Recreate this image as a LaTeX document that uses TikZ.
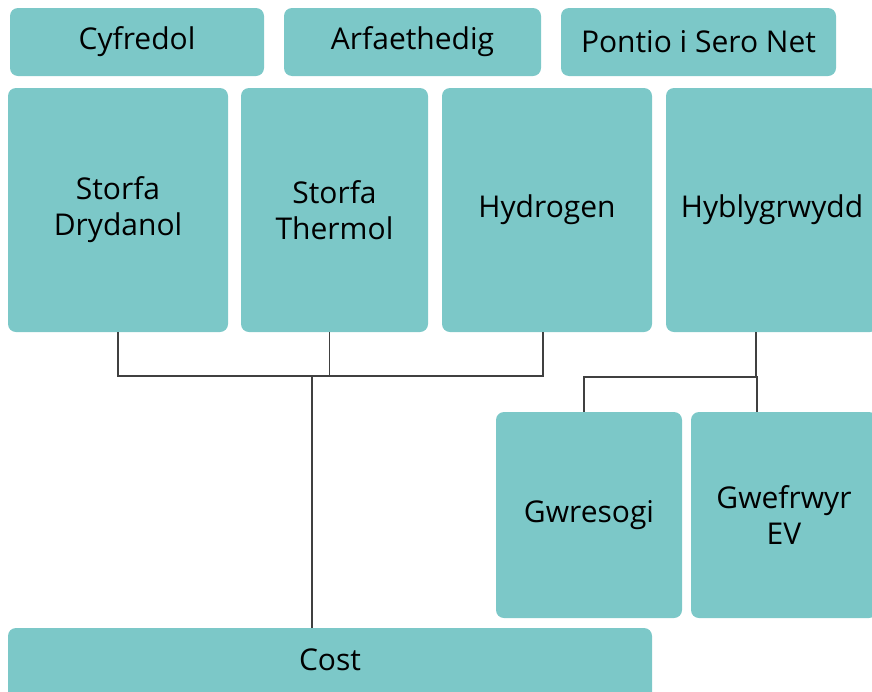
\documentclass[tikz,border=0pt]{standalone}
\usepackage{fontspec}
\setmainfont{Open Sans}
\usepackage{tikz}
\definecolor{chartTeal}{RGB}{124,200,200}
\definecolor{lineGray}{RGB}{64,64,64}

\begin{document}
\begin{tikzpicture}[x=1pt, y=-1pt,
    box/.style={fill=chartTeal, rounded corners=8pt, align=center, inner sep=0pt,
        font=\fontsize{30}{36}\selectfont},
    link/.style={draw=lineGray, line width=1.5pt}]

        \clip (0,0) rectangle (872,691);
        \useasboundingbox (0,0) rectangle (872,691);

        % top row
        \node[box, minimum width=254, minimum height=68] (cyfredol) at (137,42) {Cyfredol};
        \node[box, minimum width=257, minimum height=68] (arfaeth) at (412.5,42) {Arfaethedig};
        \node[box, minimum width=275, minimum height=68] (pontio) at (698.5,42) {Pontio i Sero Net};

        % middle row
        \node[box, minimum width=220, minimum height=244] (drydanol) at (118,210) {Storfa\\Drydanol};
        \node[box, minimum width=187, minimum height=244] (thermol) at (334.5,210) {Storfa\\Thermol};
        \node[box, minimum width=210, minimum height=244] (hydrogen) at (547,210) {Hydrogen};
        \node[box, minimum width=212, minimum height=244] (hyblyg) at (772,210) {Hyblygrwydd};

        % lower right
        \node[box, minimum width=186, minimum height=206] (gwresogi) at (589,515) {Gwresogi};
        \node[box, minimum width=186, minimum height=206] (gwefrwyr) at (784,515) {Gwefrwyr\\EV};

        % bottom
        \node[box, minimum width=644, minimum height=100] (cost) at (330,678) {};
        \node[font=\fontsize{30}{36}\selectfont] (costtext) at (330,660) {Cost};

        % connectors left
        \coordinate (busL) at (312,376);
        \draw[link] (drydanol.south) |- (busL) -| ([xshift=-4pt]hydrogen.south);
        \draw[link] ([xshift=-5pt]thermol.south) -- ([xshift=-5pt]thermol.south |- busL);
        \draw[link] (busL) -- (busL |- cost.north);

        % connectors right
        \coordinate (busR) at (670,377);
        \draw[link] ([xshift=-16pt]hyblyg.south) -- ([xshift=-16pt]hyblyg.south |- busR);
        \draw[link] ([xshift=-5pt]gwresogi.north) |- (busR) -| ([xshift=-27pt]gwefrwyr.north);

\end{tikzpicture}
\end{document}
